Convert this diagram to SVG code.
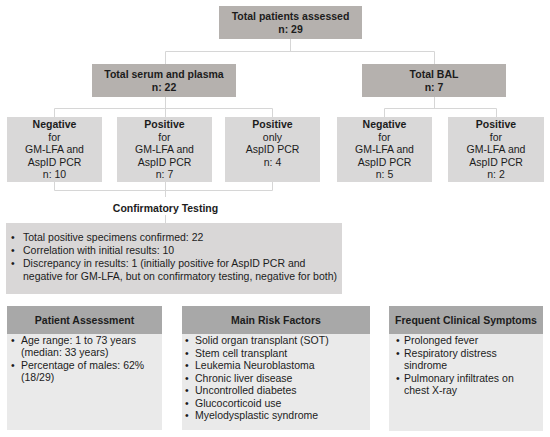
<svg xmlns="http://www.w3.org/2000/svg" width="550" height="437" viewBox="0 0 550 437">
<style>
text{font-family:"Liberation Sans",Arial,sans-serif;font-size:10.5px;fill:#1c1c1c}
.b{font-weight:bold}
.c{text-anchor:middle}
.top{fill:#b5b1ae}
.child{fill:#d9d8d8}
.conf{fill:#d9d7d7}
.hdr{fill:#a8a8a8}
.body{fill:#eaeaea}
.ln{stroke:#d6d6d6;stroke-width:1;fill:none}
</style>
<rect width="550" height="437" fill="#ffffff"/>
<g id="connectors" class="ln">
<path d="M290.5 39V51.5M165.5 51.5H434.5V64M165.5 51.5V64"/>
<path d="M165.5 97V108.5M54.5 108.5H272.5M54.5 108.5V117M165.5 108.5V117M272.5 108.5V117"/>
<path d="M434.5 97V108.5M384.5 108.5H496.5M384.5 108.5V117M496.5 108.5V117"/>
<path d="M54.5 182V190.5H272.5V182M165.5 182V197M165.5 215V223"/>
</g>
<g id="n-total">
<rect class="top" x="219" y="6" width="143" height="33"/>
<text class="b c" x="290.5" y="20">Total patients assessed</text>
<text class="b c" x="290.5" y="32.5">n: 29</text>
</g>
<g id="n-serum">
<rect class="top" x="92" y="64" width="144" height="33"/>
<text class="b c" x="164" y="78">Total serum and plasma</text>
<text class="b c" x="164" y="90.5">n: 22</text>
</g>
<g id="n-bal">
<rect class="top" x="362" y="64" width="144" height="33"/>
<text class="b c" x="434" y="78">Total BAL</text>
<text class="b c" x="434" y="90.5">n: 7</text>
</g>
<g id="n-neg-sp">
<rect class="child" x="7" y="117" width="95" height="65"/>
<text class="c" x="54.5" y="128"><tspan class="b">Negative</tspan><tspan x="54.5" dy="12.5">for</tspan><tspan x="54.5" dy="12.5">GM-LFA and</tspan><tspan x="54.5" dy="12.5">AspID PCR</tspan><tspan x="54.5" dy="12.5">n: 10</tspan></text>
</g>
<g id="n-pos-sp">
<rect class="child" x="117" y="117" width="95" height="65"/>
<text class="c" x="164.5" y="128"><tspan class="b">Positive</tspan><tspan x="164.5" dy="12.5">for</tspan><tspan x="164.5" dy="12.5">GM-LFA and</tspan><tspan x="164.5" dy="12.5">AspID PCR</tspan><tspan x="164.5" dy="12.5">n: 7</tspan></text>
</g>
<g id="n-posonly-sp">
<rect class="child" x="225" y="117" width="95" height="65"/>
<text class="c" x="272.5" y="128"><tspan class="b">Positive</tspan><tspan x="272.5" dy="12.5">only</tspan><tspan x="272.5" dy="12.5">AspID PCR</tspan><tspan x="272.5" dy="12.5">n: 4</tspan></text>
</g>
<g id="n-neg-bal">
<rect class="child" x="337" y="117" width="95" height="65"/>
<text class="c" x="384.5" y="128"><tspan class="b">Negative</tspan><tspan x="384.5" dy="12.5">for</tspan><tspan x="384.5" dy="12.5">GM-LFA and</tspan><tspan x="384.5" dy="12.5">AspID PCR</tspan><tspan x="384.5" dy="12.5">n: 5</tspan></text>
</g>
<g id="n-pos-bal">
<rect class="child" x="448" y="117" width="96" height="65"/>
<text class="c" x="496" y="128"><tspan class="b">Positive</tspan><tspan x="496" dy="12.5">for</tspan><tspan x="496" dy="12.5">GM-LFA and</tspan><tspan x="496" dy="12.5">AspID PCR</tspan><tspan x="496" dy="12.5">n: 2</tspan></text>
</g>
<g id="n-confirm">
<text class="b c" x="165.5" y="212">Confirmatory Testing</text>
<rect class="conf" x="6" y="223" width="336" height="71"/>
<text x="11" y="241">•</text><text x="23" y="241">Total positive specimens confirmed: 22</text>
<text x="11" y="254">•</text><text x="23" y="254">Correlation with initial results: 10</text>
<text x="11" y="267">•</text><text x="23" y="267">Discrepancy in results: 1 (initially positive for AspID PCR and</text>
<text x="23" y="280">negative for GM-LFA, but on confirmatory testing, negative for both)</text>
</g>
<g id="n-patient">
<rect class="hdr" x="7" y="306" width="155" height="28"/>
<rect class="body" x="7" y="334" width="155" height="96"/>
<text class="b c" x="84.5" y="323.5">Patient Assessment</text>
<text x="11" y="344">•</text><text x="21" y="344">Age range: 1 to 73 years</text>
<text x="21" y="356">(median: 33 years)</text>
<text x="11" y="369">•</text><text x="21" y="369">Percentage of males: 62%</text>
<text x="21" y="381">(18/29)</text>
</g>
<g id="n-risk">
<rect class="hdr" x="182" y="306" width="188" height="28"/>
<rect class="body" x="182" y="334" width="188" height="96"/>
<text class="b c" x="276" y="323.5">Main Risk Factors</text>
<text x="185" y="344">•</text><text x="195" y="344">Solid organ transplant (SOT)</text>
<text x="185" y="356.5">•</text><text x="195" y="356.5">Stem cell transplant</text>
<text x="185" y="369">•</text><text x="195" y="369">Leukemia Neuroblastoma</text>
<text x="185" y="381.5">•</text><text x="195" y="381.5">Chronic liver disease</text>
<text x="185" y="394">•</text><text x="195" y="394">Uncontrolled diabetes</text>
<text x="185" y="406.5">•</text><text x="195" y="406.5">Glucocorticoid use</text>
<text x="185" y="419">•</text><text x="195" y="419">Myelodysplastic syndrome</text>
</g>
<g id="n-symptoms">
<rect class="hdr" x="389" y="306" width="154" height="28"/>
<rect class="body" x="389" y="334" width="154" height="97"/>
<text class="b c" x="466" y="323.5">Frequent Clinical Symptoms</text>
<text x="396" y="344">•</text><text x="404" y="344">Prolonged fever</text>
<text x="396" y="357">•</text><text x="404" y="357">Respiratory distress</text>
<text x="404" y="369">sindrome</text>
<text x="396" y="382">•</text><text x="404" y="382">Pulmonary infiltrates on</text>
<text x="404" y="394">chest X-ray</text>
</g>
</svg>
